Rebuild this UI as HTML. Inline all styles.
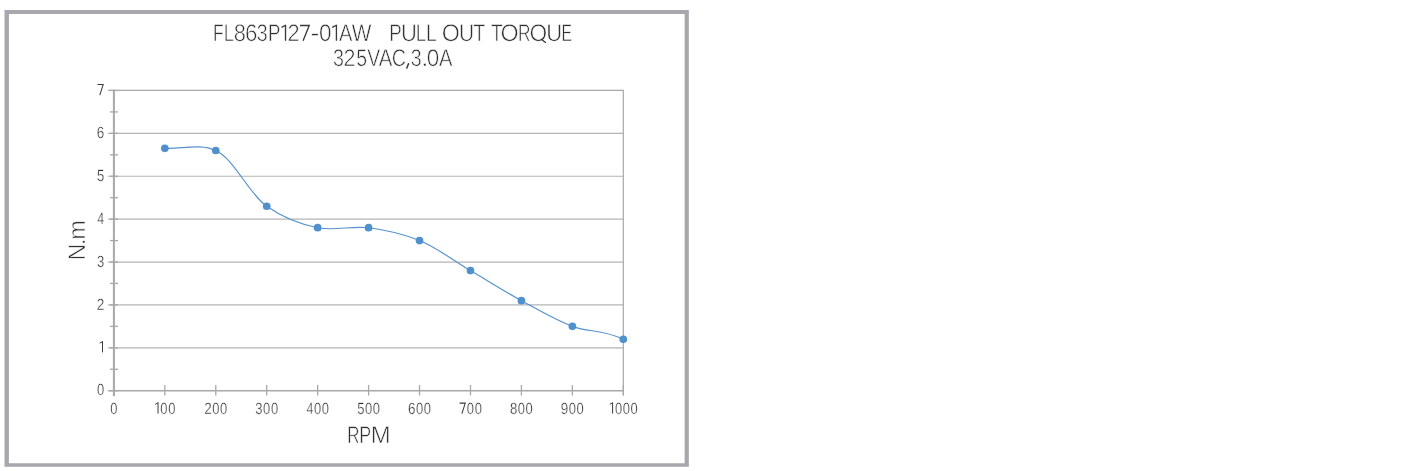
<!DOCTYPE html>
<html><head><meta charset="utf-8"><style>
html,body{margin:0;padding:0;background:#fff;width:1413px;height:471px;overflow:hidden}
svg{display:block;position:absolute;left:0;top:0;will-change:transform}
text{font-family:"Liberation Sans", sans-serif;text-rendering:geometricPrecision}
</style></head><body>
<svg width="1413" height="471" viewBox="0 0 1413 471" font-family='"Liberation Sans", sans-serif' fill="#303030">
<path d="M4.5,9.9H688.85V466.7H4.5Z M8.9,14H684.6V463.2H8.9Z" fill="#a7a8ad" fill-rule="evenodd"/>
<line x1="108" y1="347.81" x2="623.30" y2="347.81" stroke="#b4b4b8" stroke-width="1.2"/>
<line x1="108" y1="304.92" x2="623.30" y2="304.92" stroke="#b4b4b8" stroke-width="1.2"/>
<line x1="108" y1="262.03" x2="623.30" y2="262.03" stroke="#b4b4b8" stroke-width="1.2"/>
<line x1="108" y1="219.14" x2="623.30" y2="219.14" stroke="#b4b4b8" stroke-width="1.2"/>
<line x1="108" y1="176.25" x2="623.30" y2="176.25" stroke="#b4b4b8" stroke-width="1.2"/>
<line x1="108" y1="133.36" x2="623.30" y2="133.36" stroke="#b4b4b8" stroke-width="1.2"/>
<line x1="108" y1="90.47" x2="623.30" y2="90.47" stroke="#a8a8ac" stroke-width="1.3"/>
<line x1="623.30" y1="89.87" x2="623.30" y2="395.5" stroke="#a8a8ac" stroke-width="1.2"/>
<line x1="110" y1="390.70" x2="118" y2="390.70" stroke="#a8a8ac" stroke-width="1.3"/>
<line x1="110" y1="369.25" x2="118" y2="369.25" stroke="#a8a8ac" stroke-width="1.3"/>
<line x1="110" y1="347.81" x2="118" y2="347.81" stroke="#a8a8ac" stroke-width="1.3"/>
<line x1="110" y1="326.37" x2="118" y2="326.37" stroke="#a8a8ac" stroke-width="1.3"/>
<line x1="110" y1="304.92" x2="118" y2="304.92" stroke="#a8a8ac" stroke-width="1.3"/>
<line x1="110" y1="283.48" x2="118" y2="283.48" stroke="#a8a8ac" stroke-width="1.3"/>
<line x1="110" y1="262.03" x2="118" y2="262.03" stroke="#a8a8ac" stroke-width="1.3"/>
<line x1="110" y1="240.58" x2="118" y2="240.58" stroke="#a8a8ac" stroke-width="1.3"/>
<line x1="110" y1="219.14" x2="118" y2="219.14" stroke="#a8a8ac" stroke-width="1.3"/>
<line x1="110" y1="197.69" x2="118" y2="197.69" stroke="#a8a8ac" stroke-width="1.3"/>
<line x1="110" y1="176.25" x2="118" y2="176.25" stroke="#a8a8ac" stroke-width="1.3"/>
<line x1="110" y1="154.80" x2="118" y2="154.80" stroke="#a8a8ac" stroke-width="1.3"/>
<line x1="110" y1="133.36" x2="118" y2="133.36" stroke="#a8a8ac" stroke-width="1.3"/>
<line x1="110" y1="111.91" x2="118" y2="111.91" stroke="#a8a8ac" stroke-width="1.3"/>
<line x1="110" y1="90.47" x2="118" y2="90.47" stroke="#a8a8ac" stroke-width="1.3"/>
<line x1="113.90" y1="385" x2="113.90" y2="395.5" stroke="#a8a8ac" stroke-width="1.3"/>
<line x1="164.84" y1="385" x2="164.84" y2="395.5" stroke="#a8a8ac" stroke-width="1.3"/>
<line x1="215.78" y1="385" x2="215.78" y2="395.5" stroke="#a8a8ac" stroke-width="1.3"/>
<line x1="266.72" y1="385" x2="266.72" y2="395.5" stroke="#a8a8ac" stroke-width="1.3"/>
<line x1="317.66" y1="385" x2="317.66" y2="395.5" stroke="#a8a8ac" stroke-width="1.3"/>
<line x1="368.60" y1="385" x2="368.60" y2="395.5" stroke="#a8a8ac" stroke-width="1.3"/>
<line x1="419.54" y1="385" x2="419.54" y2="395.5" stroke="#a8a8ac" stroke-width="1.3"/>
<line x1="470.48" y1="385" x2="470.48" y2="395.5" stroke="#a8a8ac" stroke-width="1.3"/>
<line x1="521.42" y1="385" x2="521.42" y2="395.5" stroke="#a8a8ac" stroke-width="1.3"/>
<line x1="572.36" y1="385" x2="572.36" y2="395.5" stroke="#a8a8ac" stroke-width="1.3"/>
<line x1="623.30" y1="385" x2="623.30" y2="395.5" stroke="#a8a8ac" stroke-width="1.3"/>
<line x1="108" y1="390.70" x2="623.30" y2="390.70" stroke="#a8a8ac" stroke-width="1.5"/>
<line x1="113.90" y1="89.87" x2="113.90" y2="396.2" stroke="#a8a8ac" stroke-width="2"/>
<path d="M164.84,148.37 C181.82,149.09 200.17,143.24 215.78,150.52 C234.78,159.38 248.19,193.20 266.72,206.27 C282.57,217.46 300.32,224.22 317.66,227.72 C334.31,231.08 351.75,225.62 368.60,227.72 C385.71,229.85 403.03,233.80 419.54,240.58 C437.05,247.78 453.50,260.60 470.48,270.61 C487.46,280.62 504.29,291.27 521.42,300.63 C538.25,309.83 555.01,319.88 572.36,326.37 C589.00,332.58 601.30,328.83 623.30,339.23" fill="none" stroke="#5592cf" stroke-width="1.15"/>
<circle cx="164.84" cy="148.37" r="3.85" fill="#5090cc"/>
<circle cx="215.78" cy="150.52" r="3.85" fill="#5090cc"/>
<circle cx="266.72" cy="206.27" r="3.85" fill="#5090cc"/>
<circle cx="317.66" cy="227.72" r="3.85" fill="#5090cc"/>
<circle cx="368.60" cy="227.72" r="3.85" fill="#5090cc"/>
<circle cx="419.54" cy="240.58" r="3.85" fill="#5090cc"/>
<circle cx="470.48" cy="270.61" r="3.85" fill="#5090cc"/>
<circle cx="521.42" cy="300.63" r="3.85" fill="#5090cc"/>
<circle cx="572.36" cy="326.37" r="3.85" fill="#5090cc"/>
<circle cx="623.30" cy="339.23" r="3.85" fill="#5090cc"/>
<text x="213.10" y="41.00" font-size="24.00" textLength="10.66" lengthAdjust="spacingAndGlyphs" stroke="#fff" stroke-width="0.60">F</text><text x="223.82" y="41.00" font-size="24.00" textLength="10.03" lengthAdjust="spacingAndGlyphs" stroke="#fff" stroke-width="0.60">L</text><text x="233.65" y="41.00" font-size="24.00" textLength="12.16" lengthAdjust="spacingAndGlyphs" stroke="#fff" stroke-width="0.60">8</text><text x="245.07" y="41.00" font-size="24.00" textLength="12.41" lengthAdjust="spacingAndGlyphs" stroke="#fff" stroke-width="0.60">6</text><text x="256.85" y="41.00" font-size="24.00" textLength="10.91" lengthAdjust="spacingAndGlyphs" stroke="#fff" stroke-width="0.60">3</text><text x="267.97" y="41.00" font-size="24.00" textLength="12.41" lengthAdjust="spacingAndGlyphs" stroke="#fff" stroke-width="0.60">P</text><path d="M285.52,24.79V40.70 M285.92,24.99L281.60,27.39" stroke="#3a3a3a" stroke-width="1.35" fill="none"/><text x="287.56" y="41.00" font-size="24.00" textLength="12.13" lengthAdjust="spacingAndGlyphs" stroke="#fff" stroke-width="0.60">2</text><path d="M300.00,25.46H309.22L303.07,40.70" stroke="#3a3a3a" stroke-width="1.35" fill="none"/><text x="310.42" y="41.00" font-size="24.00" textLength="8.87" lengthAdjust="spacingAndGlyphs" stroke="#fff" stroke-width="0.60">-</text><text x="318.92" y="41.00" font-size="24.00" textLength="12.57" lengthAdjust="spacingAndGlyphs" stroke="#fff" stroke-width="0.60">0</text><path d="M336.43,24.79V40.70 M336.82,24.99L332.20,27.39" stroke="#3a3a3a" stroke-width="1.35" fill="none"/><text x="339.06" y="41.00" font-size="24.00" textLength="13.38" lengthAdjust="spacingAndGlyphs" stroke="#fff" stroke-width="0.60">A</text><text x="351.81" y="41.00" font-size="24.00" textLength="19.66" lengthAdjust="spacingAndGlyphs" stroke="#fff" stroke-width="0.60">W</text><text x="389.22" y="41.00" font-size="24.00" textLength="12.47" lengthAdjust="spacingAndGlyphs" stroke="#fff" stroke-width="0.60">P</text><text x="400.90" y="41.00" font-size="24.00" textLength="15.90" lengthAdjust="spacingAndGlyphs" stroke="#fff" stroke-width="0.60">U</text><text x="415.87" y="41.00" font-size="24.00" textLength="10.34" lengthAdjust="spacingAndGlyphs" stroke="#fff" stroke-width="0.60">L</text><text x="425.91" y="41.00" font-size="24.00" textLength="10.80" lengthAdjust="spacingAndGlyphs" stroke="#fff" stroke-width="0.60">L</text><text x="441.70" y="41.00" font-size="24.00" textLength="18.12" lengthAdjust="spacingAndGlyphs" stroke="#fff" stroke-width="0.60">O</text><text x="459.08" y="41.00" font-size="24.00" textLength="15.13" lengthAdjust="spacingAndGlyphs" stroke="#fff" stroke-width="0.60">U</text><text x="473.26" y="41.00" font-size="24.00" textLength="11.99" lengthAdjust="spacingAndGlyphs" stroke="#fff" stroke-width="0.60">T</text><text x="491.07" y="41.00" font-size="24.00" textLength="11.67" lengthAdjust="spacingAndGlyphs" stroke="#fff" stroke-width="0.60">T</text><text x="500.40" y="41.00" font-size="24.00" textLength="18.12" lengthAdjust="spacingAndGlyphs" stroke="#fff" stroke-width="0.60">O</text><text x="517.88" y="41.00" font-size="24.00" textLength="12.53" lengthAdjust="spacingAndGlyphs" stroke="#fff" stroke-width="0.60">R</text><text x="529.62" y="41.00" font-size="24.00" textLength="17.66" lengthAdjust="spacingAndGlyphs" stroke="#fff" stroke-width="0.60">O</text><text x="546.20" y="41.00" font-size="24.00" textLength="15.90" lengthAdjust="spacingAndGlyphs" stroke="#fff" stroke-width="0.60">U</text><text x="561.41" y="41.00" font-size="24.00" textLength="10.46" lengthAdjust="spacingAndGlyphs" stroke="#fff" stroke-width="0.60">E</text>
<path d="M541.3,39.3L545.9,42.7" stroke="#303030" stroke-width="1.3" fill="none"/>
<text x="332.92" y="65.85" font-size="24.00" textLength="10.94" lengthAdjust="spacingAndGlyphs" stroke="#fff" stroke-width="0.60">3</text><text x="343.62" y="65.85" font-size="24.00" textLength="11.96" lengthAdjust="spacingAndGlyphs" stroke="#fff" stroke-width="0.60">2</text><text x="356.17" y="65.85" font-size="24.00" textLength="10.85" lengthAdjust="spacingAndGlyphs" stroke="#fff" stroke-width="0.60">5</text><text x="367.31" y="65.85" font-size="24.00" textLength="12.97" lengthAdjust="spacingAndGlyphs" stroke="#fff" stroke-width="0.60">V</text><text x="378.86" y="65.85" font-size="24.00" textLength="13.63" lengthAdjust="spacingAndGlyphs" stroke="#fff" stroke-width="0.60">A</text><text x="391.75" y="65.85" font-size="24.00" textLength="14.30" lengthAdjust="spacingAndGlyphs" stroke="#fff" stroke-width="0.60">C</text><path d="M408.50,63.75L406.85,68.05" stroke="#3a3a3a" stroke-width="1.5" stroke-linecap="round" fill="none"/><text x="410.85" y="65.85" font-size="24.00" textLength="10.91" lengthAdjust="spacingAndGlyphs" stroke="#fff" stroke-width="0.60">3</text><text x="421.11" y="65.85" font-size="24.00" textLength="7.59" lengthAdjust="spacingAndGlyphs" stroke="#fff" stroke-width="0.60">.</text><text x="426.77" y="65.85" font-size="24.00" textLength="12.51" lengthAdjust="spacingAndGlyphs" stroke="#fff" stroke-width="0.60">0</text><text x="439.06" y="65.85" font-size="24.00" textLength="13.43" lengthAdjust="spacingAndGlyphs" stroke="#fff" stroke-width="0.60">A</text>
<text x="347.17" y="443.27" font-size="24.00" textLength="12.27" lengthAdjust="spacingAndGlyphs" stroke="#fff" stroke-width="0.60">R</text><text x="359.24" y="443.27" font-size="24.00" textLength="11.91" lengthAdjust="spacingAndGlyphs" stroke="#fff" stroke-width="0.60">P</text><text x="370.70" y="443.27" font-size="24.00" textLength="19.96" lengthAdjust="spacingAndGlyphs" stroke="#fff" stroke-width="0.60">M</text>
<g transform="translate(84.90,258.2) rotate(-90)"><text x="-2.19" y="0.00" font-size="24.00" textLength="16.68" lengthAdjust="spacingAndGlyphs" stroke="#fff" stroke-width="0.60">N</text><text x="12.70" y="0.00" font-size="24.00" textLength="7.29" lengthAdjust="spacingAndGlyphs" stroke="#fff" stroke-width="0.60">.</text><text x="18.54" y="0.00" font-size="24.00" textLength="19.62" lengthAdjust="spacingAndGlyphs" stroke="#fff" stroke-width="0.60">m</text></g>
<text x="96.99" y="395.30" font-size="16.20" textLength="7.21" lengthAdjust="spacingAndGlyphs" stroke="#fff" stroke-width="0.30">0</text>
<path d="M102.50,341.41V352.41 M102.80,341.51L99.70,343.11" stroke="#3a3a3a" stroke-width="1.0" fill="none"/>
<text x="96.82" y="309.52" font-size="16.20" textLength="7.57" lengthAdjust="spacingAndGlyphs" stroke="#fff" stroke-width="0.30">2</text>
<text x="97.00" y="266.63" font-size="16.20" textLength="7.27" lengthAdjust="spacingAndGlyphs" stroke="#fff" stroke-width="0.30">3</text>
<text x="97.22" y="223.74" font-size="16.20" textLength="6.84" lengthAdjust="spacingAndGlyphs" stroke="#fff" stroke-width="0.30">4</text>
<text x="96.98" y="180.85" font-size="16.20" textLength="7.27" lengthAdjust="spacingAndGlyphs" stroke="#fff" stroke-width="0.30">5</text>
<text x="96.82" y="137.96" font-size="16.20" textLength="7.47" lengthAdjust="spacingAndGlyphs" stroke="#fff" stroke-width="0.30">6</text>
<path d="M97.50,84.59H103.17L99.80,95.07" stroke="#3a3a3a" stroke-width="1.05" fill="none" stroke-linejoin="miter"/>
<text x="110.29" y="413.60" font-size="16.20" textLength="7.21" lengthAdjust="spacingAndGlyphs" stroke="#fff" stroke-width="0.30">0</text>
<path d="M158.04,402.60V413.60 M158.34,402.70L155.24,404.30" stroke="#3a3a3a" stroke-width="1.0" fill="none"/><text x="160.33" y="413.60" font-size="16.20" textLength="7.21" lengthAdjust="spacingAndGlyphs" stroke="#fff" stroke-width="0.30">0</text><text x="168.13" y="413.60" font-size="16.20" textLength="7.21" lengthAdjust="spacingAndGlyphs" stroke="#fff" stroke-width="0.30">0</text>
<text x="204.20" y="413.60" font-size="16.20" textLength="7.57" lengthAdjust="spacingAndGlyphs" stroke="#fff" stroke-width="0.30">2</text><text x="212.17" y="413.60" font-size="16.20" textLength="7.21" lengthAdjust="spacingAndGlyphs" stroke="#fff" stroke-width="0.30">0</text><text x="219.97" y="413.60" font-size="16.20" textLength="7.21" lengthAdjust="spacingAndGlyphs" stroke="#fff" stroke-width="0.30">0</text>
<text x="255.32" y="413.60" font-size="16.20" textLength="7.27" lengthAdjust="spacingAndGlyphs" stroke="#fff" stroke-width="0.30">3</text><text x="263.11" y="413.60" font-size="16.20" textLength="7.21" lengthAdjust="spacingAndGlyphs" stroke="#fff" stroke-width="0.30">0</text><text x="270.91" y="413.60" font-size="16.20" textLength="7.21" lengthAdjust="spacingAndGlyphs" stroke="#fff" stroke-width="0.30">0</text>
<text x="306.48" y="413.60" font-size="16.20" textLength="6.84" lengthAdjust="spacingAndGlyphs" stroke="#fff" stroke-width="0.30">4</text><text x="314.05" y="413.60" font-size="16.20" textLength="7.21" lengthAdjust="spacingAndGlyphs" stroke="#fff" stroke-width="0.30">0</text><text x="321.85" y="413.60" font-size="16.20" textLength="7.21" lengthAdjust="spacingAndGlyphs" stroke="#fff" stroke-width="0.30">0</text>
<text x="357.18" y="413.60" font-size="16.20" textLength="7.27" lengthAdjust="spacingAndGlyphs" stroke="#fff" stroke-width="0.30">5</text><text x="364.99" y="413.60" font-size="16.20" textLength="7.21" lengthAdjust="spacingAndGlyphs" stroke="#fff" stroke-width="0.30">0</text><text x="372.79" y="413.60" font-size="16.20" textLength="7.21" lengthAdjust="spacingAndGlyphs" stroke="#fff" stroke-width="0.30">0</text>
<text x="407.96" y="413.60" font-size="16.20" textLength="7.47" lengthAdjust="spacingAndGlyphs" stroke="#fff" stroke-width="0.30">6</text><text x="415.93" y="413.60" font-size="16.20" textLength="7.21" lengthAdjust="spacingAndGlyphs" stroke="#fff" stroke-width="0.30">0</text><text x="423.73" y="413.60" font-size="16.20" textLength="7.21" lengthAdjust="spacingAndGlyphs" stroke="#fff" stroke-width="0.30">0</text>
<path d="M459.58,403.12H465.26L461.88,413.60" stroke="#3a3a3a" stroke-width="1.05" fill="none" stroke-linejoin="miter"/><text x="466.87" y="413.60" font-size="16.20" textLength="7.21" lengthAdjust="spacingAndGlyphs" stroke="#fff" stroke-width="0.30">0</text><text x="474.67" y="413.60" font-size="16.20" textLength="7.21" lengthAdjust="spacingAndGlyphs" stroke="#fff" stroke-width="0.30">0</text>
<text x="509.95" y="413.60" font-size="16.20" textLength="7.35" lengthAdjust="spacingAndGlyphs" stroke="#fff" stroke-width="0.30">8</text><text x="517.81" y="413.60" font-size="16.20" textLength="7.21" lengthAdjust="spacingAndGlyphs" stroke="#fff" stroke-width="0.30">0</text><text x="525.61" y="413.60" font-size="16.20" textLength="7.21" lengthAdjust="spacingAndGlyphs" stroke="#fff" stroke-width="0.30">0</text>
<text x="560.83" y="413.60" font-size="16.20" textLength="7.46" lengthAdjust="spacingAndGlyphs" stroke="#fff" stroke-width="0.30">9</text><text x="568.75" y="413.60" font-size="16.20" textLength="7.21" lengthAdjust="spacingAndGlyphs" stroke="#fff" stroke-width="0.30">0</text><text x="576.55" y="413.60" font-size="16.20" textLength="7.21" lengthAdjust="spacingAndGlyphs" stroke="#fff" stroke-width="0.30">0</text>
<path d="M612.60,402.60V413.60 M612.90,402.70L609.80,404.30" stroke="#3a3a3a" stroke-width="1.0" fill="none"/><text x="614.89" y="413.60" font-size="16.20" textLength="7.21" lengthAdjust="spacingAndGlyphs" stroke="#fff" stroke-width="0.30">0</text><text x="622.69" y="413.60" font-size="16.20" textLength="7.21" lengthAdjust="spacingAndGlyphs" stroke="#fff" stroke-width="0.30">0</text><text x="630.49" y="413.60" font-size="16.20" textLength="7.21" lengthAdjust="spacingAndGlyphs" stroke="#fff" stroke-width="0.30">0</text>
</svg>
</body></html>
